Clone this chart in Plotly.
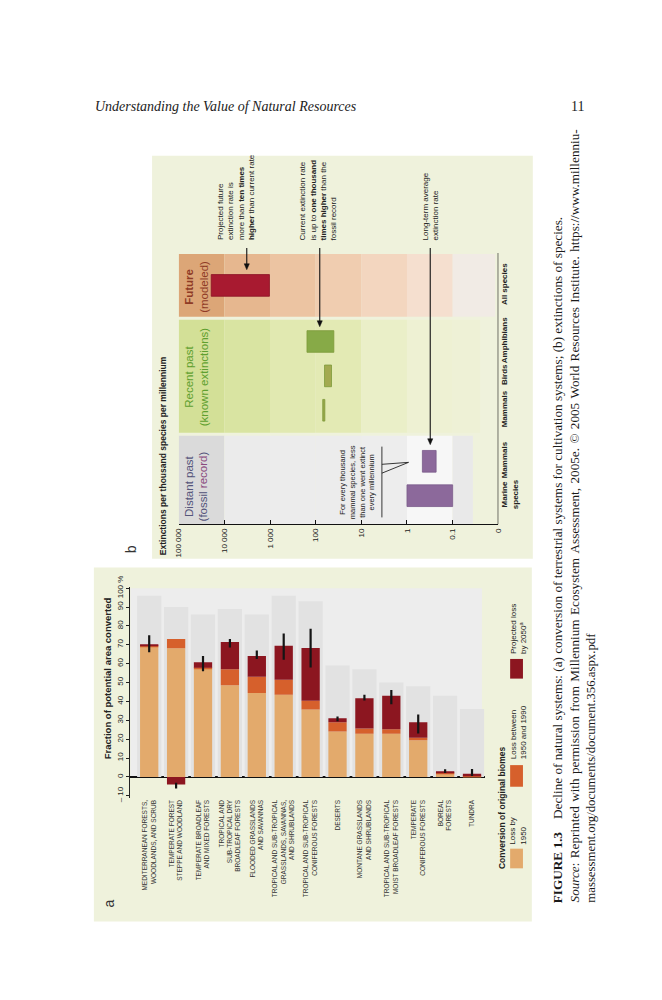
import plotly.graph_objects as go

W, H = 662, 1000
NARROW = "Liberation Sans Narrow, Arial Narrow, Liberation Sans, Arial, sans-serif"
SANS = "Liberation Sans, Arial, sans-serif"
SERIF = "Liberation Serif, Times New Roman, serif"


def px(x):
    # page pixel -> paper x
    return x / W


def py(y):
    # page pixel (from top) -> paper y
    return 1 - y / H


# ---- panel a: conversion of original biomes (fraction of potential area, %)
biomes = [
    "MEDITERRANEAN FORESTS,<br>WOODLANDS, AND SCRUB",
    "TEMPERATE FOREST<br>STEPPE AND WOODLAND",
    "TEMPERATE BROADLEAF<br>AND MIXED FORESTS",
    "TROPICAL AND<br>SUB-TROPICAL DRY<br>BROADLEAF FORESTS",
    "FLOODED GRASSLANDS<br>AND SAVANNAS",
    "TROPICAL AND SUB-TROPICAL<br>GRASSLANDS, SAVANNAS,<br>AND SHRUBLANDS",
    "TROPICAL AND SUB-TROPICAL<br>CONIFEROUS FORESTS",
    "DESERTS",
    "MONTANE GRASSLANDS<br>AND SHRUBLANDS",
    "TROPICAL AND SUB-TROPICAL<br>MOIST BROADLEAF FORESTS",
    "TEMPERATE<br>CONIFEROUS FORESTS",
    "BOREAL<br>FORESTS",
    "TUNDRA",
]
loss_by_1950 = [68.8, 68.2, 57.3, 48.5, 44.5, 43.5, 35.7, 24.0, 22.8, 22.8, 19.4, 1.8, 0.2]
loss_1950_1990 = [0.5, 4.8, 0.5, 8.5, 8.5, 8.0, 4.6, 5.0, 2.8, 2.5, 1.4, 0.6, 0.2]
loss_by_2050 = [0.9, -4.0, 2.9, 14.5, 11.0, 18.0, 28.0, 2.0, 16.0, 17.7, 8.2, 0.4, 1.3]
err_low = [66.0, -6.1, 56.0, 68.5, 62.5, 62.0, 58.0, 29.5, 40.5, 38.5, 23.0, 2.0, 0.5]
err_high = [75.0, -3.1, 64.0, 73.0, 67.0, 76.0, 78.5, 32.0, 43.5, 46.0, 33.0, 4.0, 4.2]
ghost_top = [96, 90, 86, 89, 86, 96, 93, 59, 57, 50, 48, 43, 36]
pct_ticks = [-10, 0, 10, 20, 30, 40, 50, 60, 70, 80, 90, 100]
pct_tick_text = ["\u2013 10", "0", "10", "20", "30", "40", "50", "60", "70", "80", "90", "100 %"]

# ---- panel b: extinctions per thousand species per millennium
distant_species = ["Marine<br>species", "Mammals"]
distant_low = [0.1, 0.23]
distant_high = [1.0, 0.46]
recent_species = ["Mammals", "Birds", "Amphibians"]
recent_low = [63, 45, 40]
recent_high = [70, 64, 155]
future_species = ["All species"]
future_low = [1030]
future_high = [19400]
rate_ticks = [1e5, 1e4, 1e3, 100, 10, 1, 0.1, 0.01]
rate_tick_text = ["100 000", "10 000", "1 000", "100", "10", "1", "0.1", "0"]

TAN, ORANGE, DARKRED = "#e3aa6c", "#d6602c", "#8c1620"
CREAM = "#eff2dc"

fig = go.Figure()

# panel a bars (overlay with explicit bases so the negative value hangs below 0)
base_orange = loss_by_1950
base_red = [t + o if r >= 0 else 0 for t, o, r in zip(loss_by_1950, loss_1950_1990, loss_by_2050)]
bar_end = [b + r for b, r in zip(base_red, loss_by_2050)]

fig.add_trace(go.Bar(x=biomes, y=ghost_top, marker=dict(color="#e2e2e2", line_width=0),
                     width=0.9, hoverinfo="skip"))
fig.add_trace(go.Bar(x=biomes, y=loss_by_1950, base=0, width=0.68,
                     marker=dict(color=TAN, line_width=0), name="Loss by 1950"))
fig.add_trace(go.Bar(x=biomes, y=loss_1950_1990, base=base_orange, width=0.68,
                     marker=dict(color=ORANGE, line_width=0), name="Loss between 1950 and 1990"))
fig.add_trace(go.Bar(x=biomes, y=loss_by_2050, base=base_red, width=0.68,
                     marker=dict(color=DARKRED, line_width=0), name="Projected loss by 2050"))
fig.add_trace(go.Scatter(
    x=biomes, y=bar_end, mode="markers", marker=dict(size=1, color="rgba(0,0,0,0)"),
    error_y=dict(type="data", symmetric=False,
                 array=[h - e for h, e in zip(err_high, bar_end)],
                 arrayminus=[e - l for e, l in zip(bar_end, err_low)],
                 color="#151515", thickness=2.2, width=0),
    hoverinfo="skip"))

# panel b bars, one category axis per period
for names, lo, hi, axis, colors, edge in [
    (distant_species, distant_low, distant_high, "y2", ["#8c699b", "#8c699b"], "#7a5a8a"),
    (recent_species, recent_low, recent_high, "y3", ["#98a64a", "#a3aa50", "#87aa47"], "#7d9a3a"),
    (future_species, future_low, future_high, "y4", ["#a81a30"], "#8a1224"),
]:
    fig.add_trace(go.Bar(
        y=names, x=[h - l for l, h in zip(lo, hi)], base=lo, orientation="h",
        xaxis="x2", yaxis=axis, width=0.63,
        marker=dict(color=colors, line=dict(color=edge, width=0.8)), hoverinfo="skip"))

shapes = [
    dict(type="rect", xref="paper", yref="paper", x0=px(142), x1=px(528), y0=py(548), y1=py(138),
         fillcolor=CREAM, line_width=0, layer="below"),
    dict(type="rect", xref="paper", yref="paper", x0=px(83), x1=px(527), y0=py(917), y1=py(557),
         fillcolor=CREAM, line_width=0, layer="below"),
    dict(type="rect", xref="x domain", yref="y", x0=0, x1=0.99, y0=0, y1=100,
         fillcolor="#ededed", line_width=0, layer="below"),
]

# shaded period columns in panel b, one stripe per decade
decades = [1e5, 1e4, 1e3, 100, 10, 1, 0.1]
band_styles = [
    ("y2", 0.036, ["#dadada", "#ebebeb", "#ececec", "#ececec", "#ededed", "#f7f7f7", "#e9e9e9"]),
    ("y3", 0.025, ["#d3e097", "#d9e4a2", "#e1e9b1", "#e3eab4", "#eaefc8", "#eef1d3", "#eef1d6"]),
    ("y4", 0.0117, ["#dca677", "#e6b78f", "#ecc4a2", "#f0cdb0", "#f3d6bf", "#f5dfcf", "#f1ebe5"]),
]
for axis, end, colors in band_styles:
    edges = decades + [end]
    for i, c in enumerate(colors):
        shapes.append(dict(type="rect", xref="x2", yref=axis + " domain",
                           x0=edges[i], x1=edges[i + 1], y0=0, y1=1,
                           fillcolor=c, line_width=0, layer="below"))

# right-hand category axis line of panel b
shapes.append(dict(type="line", xref="x2", yref="paper", x0=0.01, x1=0.01, y0=py(513), y1=py(237),
                   line=dict(color="#111", width=1.2)))
# bracket of the mammal note
shapes.append(dict(type="path", xref="paper", yref="paper", line=dict(color="#222", width=0.9),
                   path=f"M {px(375)},{py(434)} L {px(375)},{py(506)} "
                        f"M {px(375)},{py(452)} L {px(402)},{py(450)} L {px(375)},{py(461)}"))
# pointer arrows from the notes down to the bars
for x, y_tail, y_head in [(238, 232, 254), (312, 232, 312), (424, 232, 432)]:
    shapes.append(dict(type="line", xref="paper", yref="paper", x0=px(x), x1=px(x),
                       y0=py(y_tail), y1=py(y_head - 4), line=dict(color="#111", width=1.1)))
    shapes.append(dict(type="path", xref="paper", yref="paper", fillcolor="#111",
                       line=dict(color="#111", width=0.5),
                       path=f"M {px(x - 2.6)},{py(y_head - 6)} L {px(x + 2.6)},{py(y_head - 6)} "
                            f"L {px(x)},{py(y_head)} Z"))
# legend swatches of panel a
for top, bottom, c in [(843, 863, TAN), (758, 780, ORANGE), (650, 670, DARKRED)]:
    shapes.append(dict(type="rect", xref="paper", yref="paper", x0=px(505), x1=px(518),
                       y0=py(bottom), y1=py(top), fillcolor=c, line_width=0))


def vtext(text, x, y, size=8, yanchor="bottom", align="left", color="#222", family=NARROW):
    return dict(text=text, x=px(x), y=py(y), xref="paper", yref="paper", textangle=-90,
                xanchor="center", yanchor=yanchor, align=align, showarrow=False,
                font=dict(size=size, color=color, family=family))


SP = " \u200a"  # slightly wider gaps imitate the justified source line
annotations = [
    dict(text="Understanding the Value of Natural Resources", x=px(82), y=py(88), xref="paper",
         yref="paper", xanchor="left", yanchor="middle", showarrow=False,
         font=dict(size=14, family=SERIF, color="#222", style="italic")),
    dict(text="11", x=px(573), y=py(88), xref="paper", yref="paper", xanchor="center",
         yanchor="middle", showarrow=False, font=dict(size=14, family=SERIF, color="#222")),
    # caption
    vtext("<b>FIGURE 1.3</b>\u2002\u2002Decline of natural systems: (a) conversion of terrestrial "
          "systems for cultivation systems; (b) extinctions of species.", 553, 900, 13.2,
          family=SERIF, color="#1a1a1a"),
    vtext(SP.join(("<i>Source</i>: Reprinted with permission from Millennium Ecosystem "
                   "Assessment, 2005e. \u00a9 2005 World Resources Institute. "
                   "https://www.millenniu-").split(" ")), 570, 900, 13.2,
          family=SERIF, color="#1a1a1a"),
    vtext("massessment.org/documents/document.356.aspx.pdf", 587, 900, 12.8,
          family=SERIF, color="#1a1a1a"),
    # panel letters
    vtext("b", 120, 538, 14, yanchor="middle", family=SANS, color="#333"),
    vtext("a", 98, 899, 14, yanchor="middle", family=SANS, color="#333"),
    # panel b texts
    vtext("<b>Extinctions per thousand species per millennium</b>", 153, 546, 8.5),
    vtext("<b>Future</b><br>(modeled)", 187, 271, 11.5, yanchor="middle", align="center",
          color="#8f3b26"),
    vtext("Recent past<br>(known extinctions)", 187, 363, 11.5, yanchor="middle", align="center",
          color="#5f9f2f"),
    vtext("Distant past<br>(fossil <span style='color:#8a4a7e'>record</span>)", 187, 474, 11.5,
          yanchor="middle", align="center", color="#55557a"),
    vtext("Projected future<br>extinction rate is<br>more than <b>ten times</b><br>"
          "<b>higher</b> than current rate", 227, 226),
    vtext("Current extinction rate<br>is up to <b>one thousand</b><br><b>times higher</b> than the"
          "<br>fossil record", 310, 226),
    vtext("Long-term average<br>extinction rate", 424, 226),
    vtext("For every thousand<br>mammal species, less<br>than one went extinct<br>every millennium",
          350, 470, 7.5, yanchor="middle", align="center"),
    # panel a texts
    vtext("<b>Fraction of potential area converted</b>", 97, 670, 9.5, yanchor="middle",
          align="center"),
    vtext("<b>Conversion of original biomes</b>", 497, 866, 8.5),
    vtext("Loss by<br>1950", 513, 841, 8),
    vtext("Loss between<br>1950 and 1990", 513, 754, 8),
    vtext("Projected loss<br>by 2050<sup>a</sup>", 513, 647, 8),
]

fig.update_layout(
    width=W, height=H, autosize=False, margin=dict(l=0, r=0, t=0, b=0),
    paper_bgcolor="white", plot_bgcolor="rgba(0,0,0,0)",
    barmode="overlay", showlegend=False, hovermode=False,
    font=dict(family=NARROW, color="#222"),
    shapes=shapes, annotations=annotations,
    xaxis=dict(domain=[px(120), px(480)], anchor="y", type="category",
               categoryorder="array", categoryarray=biomes, range=[-0.7, 12.5],
               tickangle=-90, tickfont=dict(size=6.5, family=NARROW, color="#333"),
               showgrid=False, showline=False, ticks="", fixedrange=True),
    yaxis=dict(domain=[py(791.1), py(577)], anchor="x", range=[-11, 100.5],
               tickvals=pct_ticks, ticktext=pct_tick_text, tickangle=-90,
               tickfont=dict(size=8, family=NARROW, color="#222"),
               showline=True, linecolor="#222", linewidth=1, ticks="outside", ticklen=3,
               tickcolor="#222", showgrid=False, zeroline=True, zerolinecolor="#111",
               zerolinewidth=1.6, fixedrange=True),
    xaxis2=dict(domain=[px(169), px(493)], anchor="y2", type="log", range=[5, -2],
                tickvals=rate_ticks, ticktext=rate_tick_text, tickangle=-90,
                tickfont=dict(size=8, family=NARROW, color="#222"),
                showline=True, linecolor="#111", linewidth=1.2, ticks="inside", ticklen=4,
                tickcolor="#111", showgrid=False, zeroline=False, fixedrange=True),
    yaxis2=dict(domain=[py(513), py(423)], anchor="x2", side="right", type="category",
                categoryorder="array", categoryarray=distant_species, range=[-0.83, 1.74],
                tickangle=-90, tickfont=dict(size=8, family=NARROW, color="#222", weight="bold"),
                showline=False, ticks="", showgrid=False, fixedrange=True),
    yaxis3=dict(domain=[py(420), py(305)], anchor="x2", side="right", type="category",
                categoryorder="array", categoryarray=recent_species, range=[-0.657, 2.63],
                tickangle=-90, tickfont=dict(size=8, family=NARROW, color="#222", weight="bold"),
                showline=False, ticks="", showgrid=False, fixedrange=True),
    yaxis4=dict(domain=[py(302), py(238)], anchor="x2", side="right", type="category",
                categoryorder="array", categoryarray=future_species, range=[-0.914, 0.914],
                tickangle=-90, tickfont=dict(size=8, family=NARROW, color="#222", weight="bold"),
                showline=False, ticks="", showgrid=False, fixedrange=True),
)

fig.write_html("out.html")
